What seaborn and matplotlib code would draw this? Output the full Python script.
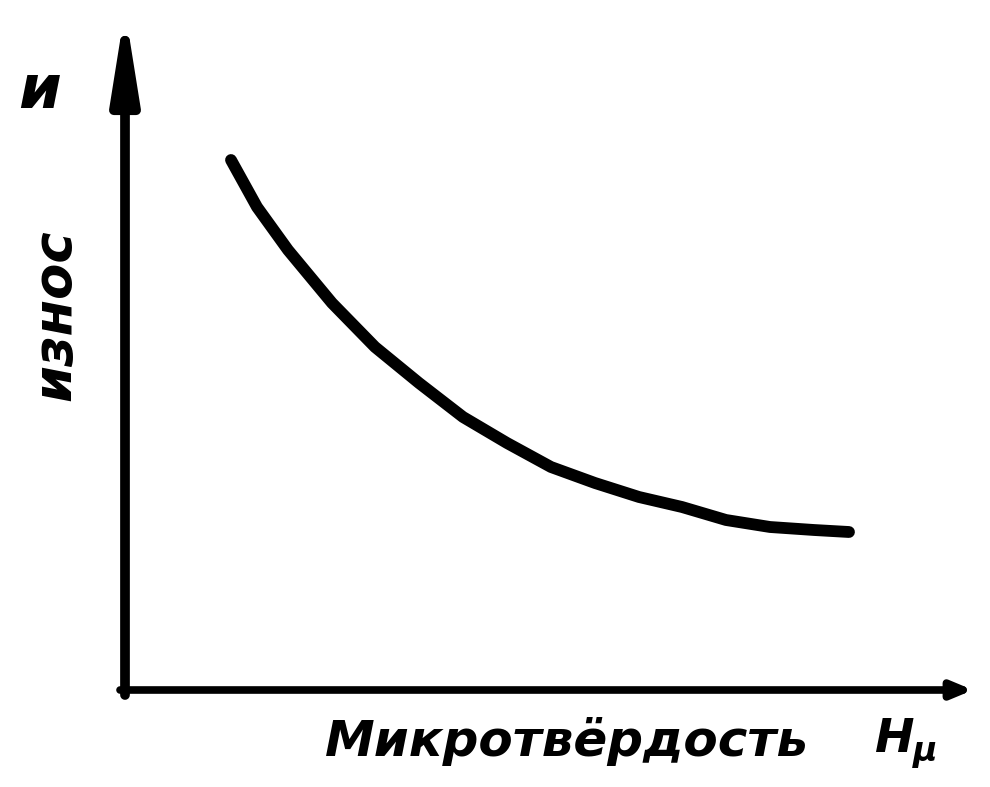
import seaborn as sns
import matplotlib
matplotlib.use("Agg")
import matplotlib.pyplot as plt
import pandas as pd

# hand-drawn curve: wear vs. microhardness (arbitrary units)
hardness = [1.06, 1.32, 1.63, 2.07, 2.50, 2.94, 3.38, 3.82, 4.26, 4.70, 5.14, 5.57, 6.01, 6.45, 6.89, 7.24]
wear = [5.30, 4.83, 4.40, 3.87, 3.43, 3.07, 2.73, 2.47, 2.23, 2.07, 1.93, 1.83, 1.70, 1.63, 1.60, 1.58]

y_label = "износ"
y_symbol = "и"
x_label = "Микротвёрдость"
x_symbol = "H"
x_symbol_sub = "μ"

df = pd.DataFrame({"hardness": hardness, "wear": wear})

sns.set_theme(style="white")
plt.rcParams["font.family"] = ["DejaVu Sans"]
plt.rcParams["text.color"] = "black"

fig = plt.figure(figsize=(9.9, 7.87), dpi=100)
ax = fig.add_axes([125 / 990, 97 / 787, 865 / 990, 690 / 787])
sns.lineplot(data=df, x="hardness", y="wear", color="black", linewidth=8.5,
             solid_capstyle="round", solid_joinstyle="round", ax=ax)
ax.set_xlim(0, 8.65)
ax.set_ylim(0, 6.9)
for s in ax.spines.values():
    s.set_visible(False)
ax.set_xticks([])
ax.set_yticks([])
ax.set_xlabel("")
ax.set_ylabel("")

# axis arrows
ax.annotate("", xy=(0, 6.8), xytext=(0, -0.05), annotation_clip=False,
            arrowprops=dict(arrowstyle="-|>,head_length=2.5,head_width=0.4",
                            mutation_scale=20, color="black", lw=7,
                            shrinkA=0, shrinkB=0))
ax.annotate("", xy=(8.48, 0), xytext=(-0.05, 0), annotation_clip=False,
            arrowprops=dict(arrowstyle="-|>,head_length=0.6,head_width=0.25",
                            mutation_scale=20, color="black", lw=5.5,
                            shrinkA=0, shrinkB=0))

fig.text(40 / 990, 1 - 92 / 787, y_symbol, fontsize=44, fontweight="bold",
         style="italic", ha="center", va="center", color="black")
fig.text(55 / 990, 1 - 315 / 787, y_label, fontsize=38, fontweight="bold",
         style="italic", rotation=90, ha="center", va="center", color="black")
fig.text(567 / 990, 1 - 742 / 787, x_label, fontsize=36, fontweight="bold",
         style="italic", ha="center", va="center", color="black")
fig.text(895 / 990, 1 - 740 / 787, x_symbol, fontsize=34, fontweight="bold",
         style="italic", ha="center", va="center", color="black")
fig.text(925 / 990, 1 - 752 / 787, x_symbol_sub, fontsize=24, fontweight="bold",
         style="italic", ha="center", va="center", color="black")

fig.savefig("out.png", dpi=100)
